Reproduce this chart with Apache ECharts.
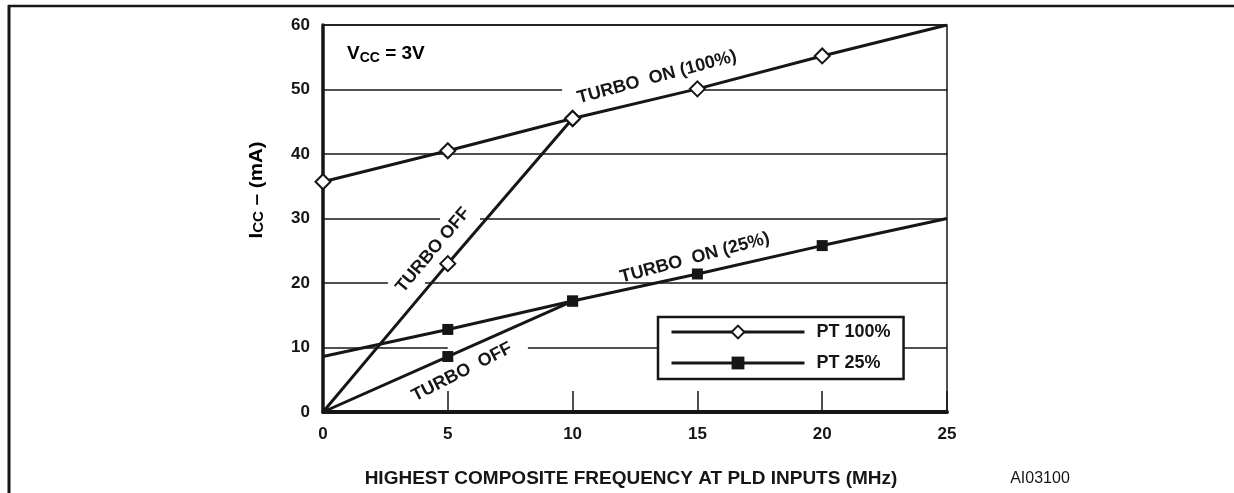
<!DOCTYPE html>
<html>
<head>
<meta charset="utf-8">
<script src="https://cdn.jsdelivr.net/npm/echarts@6/dist/echarts.min.js"></script>
<style>
html,body{margin:0;padding:0;background:#fff;}
#c{width:1234px;height:493px;}
</style>
</head>
<body>
<div id="c"></div>
<script>
// ---------- data ----------
const freqOn = [0, 5, 10, 15, 20, 25];
const freqOff = [0, 5, 10];
const pt100On = [35.7, 40.5, 45.5, 50.1, 55.2, 60];
const pt100Off = [0, 23, 45.5];
const pt25On = [8.6, 12.8, 17.2, 21.4, 25.8, 30];
const pt25Off = [0, 8.6, 17.2];
// indices of measured points that carry a marker
const pt100OnMarks = [0, 1, 2, 3, 4];
const pt100OffMarks = [1, 2];
const pt25OnMarks = [1, 2, 3, 4];
const pt25OffMarks = [1, 2];
const xTicks = [0, 5, 10, 15, 20, 25];
const yTicks = [0, 10, 20, 30, 40, 50, 60];
const seriesNames = ['PT 100%', 'PT 25%'];

const FONT = '"Liberation Sans", Arial, sans-serif';
const INK = '#161616';

function buildData(xs, ys, marks) {
  return xs.map(function (x, i) {
    return marks.indexOf(i) >= 0 ? [x, ys[i]] : { value: [x, ys[i]], symbol: 'none' };
  });
}
const diamondStyle = { color: '#fff', borderColor: INK, borderWidth: 2 };
const squareStyle = { color: INK, borderColor: INK, borderWidth: 0 };
const lineStyle = { color: INK, width: 3 };

function mkSeries(name, xs, ys, marks, sym, size, itemStyle) {
  return {
    name: name, type: 'line', data: buildData(xs, ys, marks),
    symbol: sym, symbolSize: size,
    showAllSymbol: true, lineStyle: lineStyle, itemStyle: itemStyle,
    z: 5, animation: false, silent: true
  };
}

const option = {
  animation: false,
  backgroundColor: '#fff',
  textStyle: { fontFamily: FONT },
  grid: { left: 323, top: 25, width: 624, height: 387, show: true,
          borderColor: INK, borderWidth: 1.5, backgroundColor: 'transparent' },
  xAxis: {
    type: 'value', min: xTicks[0], max: xTicks[xTicks.length - 1], interval: xTicks[1] - xTicks[0],
    axisLine: { lineStyle: { color: INK, width: 4 } },
    axisTick: { show: true, inside: true, length: 21, lineStyle: { color: INK, width: 1.5 } },
    splitLine: { show: false },
    axisLabel: { color: INK, fontSize: 17, fontWeight: 'bold', fontFamily: FONT, margin: 14 }
  },
  yAxis: {
    type: 'value', min: yTicks[0], max: yTicks[yTicks.length - 1], interval: yTicks[1] - yTicks[0],
    axisLine: { show: true, lineStyle: { color: INK, width: 3.5 } },
    axisTick: { show: false },
    splitLine: { show: true, lineStyle: { color: INK, width: 1.5 } },
    axisLabel: { color: INK, fontSize: 17, fontWeight: 'bold', fontFamily: FONT, margin: 13 }
  },
  legend: {
    data: [
      { name: seriesNames[0], itemStyle: { color: '#fff', borderColor: INK, borderWidth: 2 } },
      { name: seriesNames[1], itemStyle: { color: INK, borderColor: INK, borderWidth: 0 } }
    ],
    selectedMode: false, orient: 'vertical',
    left: 658, top: 317, itemWidth: 133, itemHeight: 16, itemGap: 13,
    padding: [6, 13, 7, 12],
    lineStyle: { color: INK, width: 3 },
    backgroundColor: '#fff', borderColor: INK, borderWidth: 2.5,
    textStyle: { color: INK, fontSize: 18, fontWeight: 'bold', fontFamily: FONT, padding: [0, 0, 0, 7] }
  },
  series: [
    mkSeries(seriesNames[0], freqOn, pt100On, pt100OnMarks, 'diamond', 15, diamondStyle),
    mkSeries(seriesNames[0], freqOff, pt100Off, pt100OffMarks, 'diamond', 15, diamondStyle),
    mkSeries(seriesNames[1], freqOn, pt25On, pt25OnMarks, 'rect', 11, squareStyle),
    mkSeries(seriesNames[1], freqOff, pt25Off, pt25OffMarks, 'rect', 11, squareStyle)
  ]
};

const chart = echarts.init(document.getElementById('c'), null, { renderer: 'canvas' });
chart.setOption(option);

// ---------- annotations (anchored in data coordinates) ----------
const curveLabels = [
  { text: 'TURBO  ON (100%)', at: [13.38, 51.9], angle: 15 },
  { text: 'TURBO OFF', at: [4.41, 25.1], angle: 50 },
  { text: 'TURBO  ON (25%)', at: [14.9, 23.9], angle: 15 },
  { text: 'TURBO  OFF', at: [5.57, 6.2], angle: 27 }
];
// gaps left in the grid lines around the labels: [y, xFrom, xTo]
const gridGaps = [[50, 9.58, 14.75], [30, 4.69, 6.29], [20, 2.6, 4.09], [10, 5.0, 8.21]];

const px = (p) => chart.convertToPixel({ gridIndex: 0 }, p);
const g = [];
gridGaps.forEach(function (gp) {
  const a = px([gp[1], gp[0]]), b = px([gp[2], gp[0]]);
  g.push({ type: 'rect', z: 1, silent: true,
    shape: { x: a[0], y: a[1] - 2.5, width: b[0] - a[0], height: 5 },
    style: { fill: '#fff' } });
});
curveLabels.forEach(function (l) {
  const p = px(l.at);
  g.push({ type: 'text', z: 20, silent: true, x: p[0], y: p[1], rotation: l.angle * Math.PI / 180,
    style: { text: l.text, fill: INK, font: 'bold 18px ' + FONT, align: 'center', verticalAlign: 'middle' } });
});
// Vcc label
const vp = px([0.96, 55.6]);
g.push({ type: 'text', z: 20, silent: true, x: vp[0], y: vp[1],
  style: { text: '{a|V}{b|CC}{a| = 3V}', align: 'left', verticalAlign: 'middle',
    rich: { a: { fontSize: 19, fontWeight: 'bold', fontFamily: FONT, color: INK },
            b: { fontSize: 14, fontWeight: 'bold', fontFamily: FONT, color: INK, padding: [9, 0, 0, 0] } } } });
// y axis name
g.push({ type: 'text', z: 20, silent: true, x: 257, y: 190, rotation: Math.PI / 2, scaleX: 1.08,
  style: { text: '{a|I}{b|CC}{a| – (mA)}', align: 'center', verticalAlign: 'middle',
    rich: { a: { fontSize: 19, fontWeight: 'bold', fontFamily: FONT, color: INK },
            b: { fontSize: 14, fontWeight: 'bold', fontFamily: FONT, color: INK, padding: [4, 0, 0, 0] } } } });
// x axis name
g.push({ type: 'text', z: 20, silent: true, x: 631, y: 479,
  style: { text: 'HIGHEST COMPOSITE FREQUENCY AT PLD INPUTS (MHz)', fill: INK,
    font: 'bold 19px ' + FONT, align: 'center', verticalAlign: 'middle' } });
// figure code
g.push({ type: 'text', z: 20, silent: true, x: 1040, y: 479,
  style: { text: 'AI03100', fill: INK, font: '16px ' + FONT, align: 'center', verticalAlign: 'middle' } });
// page frame
g.push({ type: 'line', z: 20, silent: true, shape: { x1: 8, y1: 6, x2: 1234, y2: 6 }, style: { stroke: INK, lineWidth: 2.5 } });
g.push({ type: 'line', z: 20, silent: true, shape: { x1: 9, y1: 5, x2: 9, y2: 493 }, style: { stroke: INK, lineWidth: 3 } });
chart.setOption({ graphic: { elements: g } });
</script>
</body>
</html>
